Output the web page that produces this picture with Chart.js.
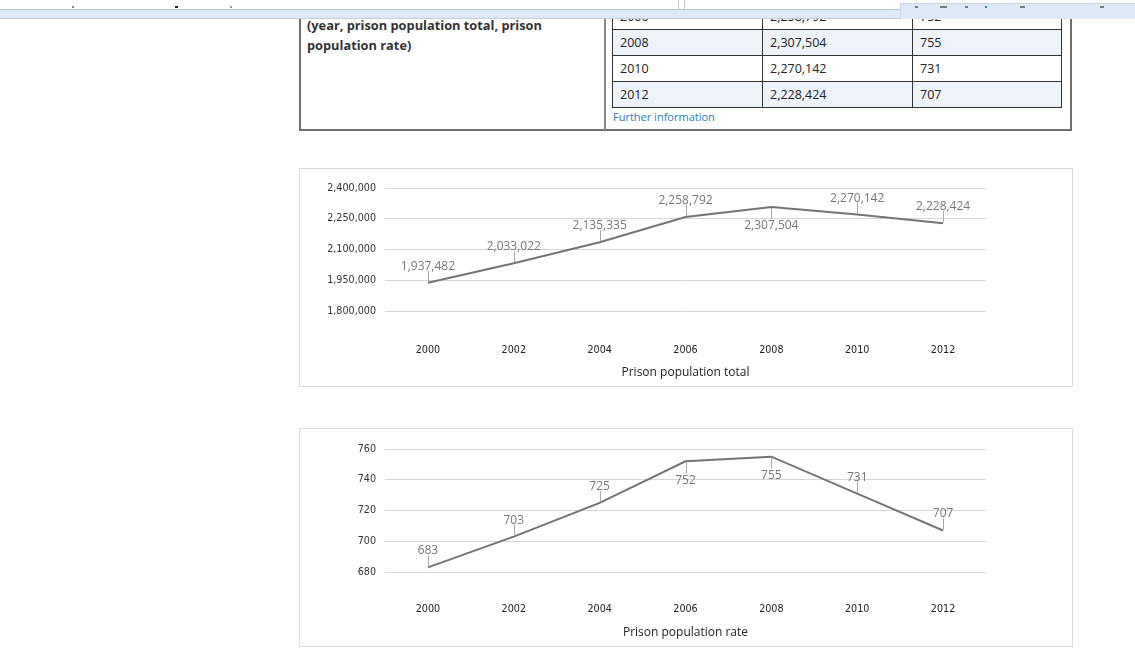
<!DOCTYPE html>
<html>
<head>
<meta charset="utf-8">
<script src="https://cdn.jsdelivr.net/npm/chart.js@4.4.1/dist/chart.umd.min.js"></script>
<style>
  html, body { margin: 0; padding: 0; background: #fff; width: 1135px; height: 656px; overflow: hidden; font-family: "Open Sans", sans-serif; }
  .abs { position: absolute; box-sizing: border-box; }
  #topWhite { left: 0; top: 0; width: 1135px; height: 9px; background: #fff; z-index: 5; }
  #band { left: 0; top: 9px; width: 1135px; height: 10px; background: #dde9f6; border-top: 1px solid #b4c2d2; border-bottom: 1px solid #c3cfdc; z-index: 6; }
  #bandRight { left: 900px; top: 3px; width: 235px; height: 16px; background: #dde9f6; border-top: 1px solid #c9d5e2; border-left: 1px solid #c9d5e2; z-index: 7; }
  .edge { width: 1px; height: 9px; top: 0; background: #c8c8c8; z-index: 7; }
  .ico { height: 2px; top: 6px; background: #777; z-index: 8; }
  #outer { left: 299px; top: -30px; width: 773px; height: 161px; border-left: 2px solid #6e6e6e; border-right: 2px solid #6e6e6e; border-bottom: 2px solid #6e6e6e; }
  #divider { left: 604px; top: -30px; width: 2px; height: 160px; background: #8c8c8c; }
  #cellText { left: 307px; top: 15px; width: 290px; font-weight: bold; font-size: 12.8px; line-height: 20px; color: #333; }
  #dataTable { left: 612px; display: grid; grid-template-columns: 150px 150px 149px; grid-auto-rows: 26px; border-left: 1px solid #333; border-top: 1px solid #333; }
  #dataTable div { box-sizing: border-box; border-right: 1px solid #333; border-bottom: 1px solid #333; padding-left: 7px; line-height: 25px; font-size: 12.5px; color: #222; }
  #dataTable div.shade { background: #eef3f9; }
  #further { left: 613px; top: 109px; font-size: 11px; color: #2b7bb9; line-height: 16px; }
  .chartBox { left: 299px; width: 774px; height: 219px; border: 1px solid #dcdcdc; background: #fff; }
  canvas { position: absolute; }
</style>
</head>
<body>

<div id="outer" class="abs"></div>
<div id="divider" class="abs"></div>
<div id="cellText" class="abs">(year, prison population total, prison population rate)</div>
<div id="dataTable" class="abs"></div>
<div id="further" class="abs">Further information</div>

<div id="topWhite" class="abs"></div>
<div id="band" class="abs"></div>
<div id="bandRight" class="abs"></div>
<div class="abs edge" style="left:678px"></div>
<div class="abs edge" style="left:684px"></div>
<div class="abs ico" style="left:72px;width:2px;background:#8a7fb0"></div>
<div class="abs ico" style="left:175px;width:3px;background:#222"></div>
<div class="abs ico" style="left:230px;width:2px;background:#999"></div>
<div class="abs ico" style="left:915px;width:3px"></div>
<div class="abs ico" style="left:940px;width:7px"></div>
<div class="abs ico" style="left:965px;width:3px"></div>
<div class="abs ico" style="left:985px;width:2px;background:#2a7fd0"></div>
<div class="abs ico" style="left:1020px;width:5px"></div>
<div class="abs ico" style="left:1100px;width:4px"></div>

<div class="abs chartBox" style="top:168px"></div>
<canvas id="chartTotal" width="772" height="217" style="left:300px;top:169px;width:772px;height:217px"></canvas>

<div class="abs chartBox" style="top:428px"></div>
<canvas id="chartRate" width="772" height="217" style="left:300px;top:429px;width:772px;height:217px"></canvas>

<script>
// ---- Data ----
const years = ['2000', '2002', '2004', '2006', '2008', '2010', '2012'];
const prisonTotal = [1937482, 2033022, 2135335, 2258792, 2307504, 2270142, 2228424];
const prisonRate = [683, 703, 725, 752, 755, 731, 707];

// label placement (style, not data)
const totalLabelSide = ['above', 'above', 'above', 'above', 'below', 'above', 'above'];
const rateLabelSide = ['above', 'above', 'above', 'below', 'below', 'above', 'above'];

// ---- Table ----
const tbl = document.getElementById('dataTable');
const firstVisible = 3; // 2006 row sits at the top edge
tbl.style.top = (3 - 26 * firstVisible) + 'px';
years.forEach((y, i) => {
  const cls = (i % 2 === 0) ? 'shade' : '';
  [y, prisonTotal[i].toLocaleString('en-US'), String(prisonRate[i])].forEach(t => {
    const d = document.createElement('div');
    d.className = cls;
    d.textContent = t;
    tbl.appendChild(d);
  });
});

// ---- Point label plugin ----
const pointLabels = {
  id: 'pointLabels',
  afterDatasetsDraw(chart, args, opts) {
    const ctx = chart.ctx;
    const meta = chart.getDatasetMeta(0);
    const data = chart.data.datasets[0].data;
    ctx.save();
    ctx.font = '12px "Open Sans"';
    ctx.textAlign = 'center';
    ctx.textBaseline = 'alphabetic';
    meta.data.forEach((pt, i) => {
      const below = opts.side[i] === 'below';
      const x = Math.round(pt.x) + 0.5;
      const y = pt.y;
      ctx.strokeStyle = '#a8a8a8';
      ctx.lineWidth = 1;
      ctx.beginPath();
      if (below) { ctx.moveTo(x, y + 1); ctx.lineTo(x, y + 12); }
      else { ctx.moveTo(x, y - 1); ctx.lineTo(x, y - 12); }
      ctx.stroke();
      ctx.fillStyle = '#777777';
      ctx.fillText(data[i].toLocaleString('en-US'), pt.x, below ? y + 22.5 : y - 13);
    });
    ctx.restore();
  }
};

function makeChart(id, values, yMin, yMax, step, title, side, padTop, xHeight, tickPad) {
  return new Chart(document.getElementById(id), {
    type: 'line',
    data: {
      labels: years,
      datasets: [{
        data: values,
        borderColor: '#747474',
        borderWidth: 2,
        pointRadius: 0,
        pointHoverRadius: 0,
        tension: 0,
        fill: false
      }]
    },
    options: {
      responsive: false,
      animation: false,
      devicePixelRatio: 1,
      events: [],
      layout: { padding: { left: 0, right: 86, top: padTop, bottom: 0 } },
      plugins: {
        legend: { display: false },
        tooltip: { enabled: false },
        pointLabels: { side: side }
      },
      scales: {
        x: {
          offset: true,
          grid: { display: false },
          border: { display: false },
          ticks: { padding: tickPad, color: '#222', font: { family: 'DejaVu Sans', size: 9.6 } },
          title: { display: true, text: title, color: '#222', font: { family: 'Open Sans', size: 12 }, padding: { top: 0, bottom: 6 } },
          afterFit(s) { s.height = xHeight; }
        },
        y: {
          min: yMin,
          max: yMax,
          grid: { color: '#d6d6d6', lineWidth: 1, drawTicks: false },
          border: { display: false },
          ticks: {
            stepSize: step,
            padding: 9,
            color: '#333',
            font: { family: 'DejaVu Sans', size: 9.6 },
            callback: v => Number(v).toLocaleString('en-US')
          },
          afterFit(s) { s.width = 85; }
        }
      }
    },
    plugins: [pointLabels]
  });
}

Promise.all([
  document.fonts.load('12px "Open Sans"'),
  document.fonts.load('bold 13px "Open Sans"'),
  document.fonts.load('10px "DejaVu Sans"')
]).catch(() => {}).then(() => {
  makeChart('chartTotal', prisonTotal, 1800000, 2400000, 150000, 'Prison population total', totalLabelSide, 19, 75, 26);
  makeChart('chartRate', prisonRate, 680, 760, 20, 'Prison population rate', rateLabelSide, 20, 74, 24);
});
</script>
</body>
</html>
